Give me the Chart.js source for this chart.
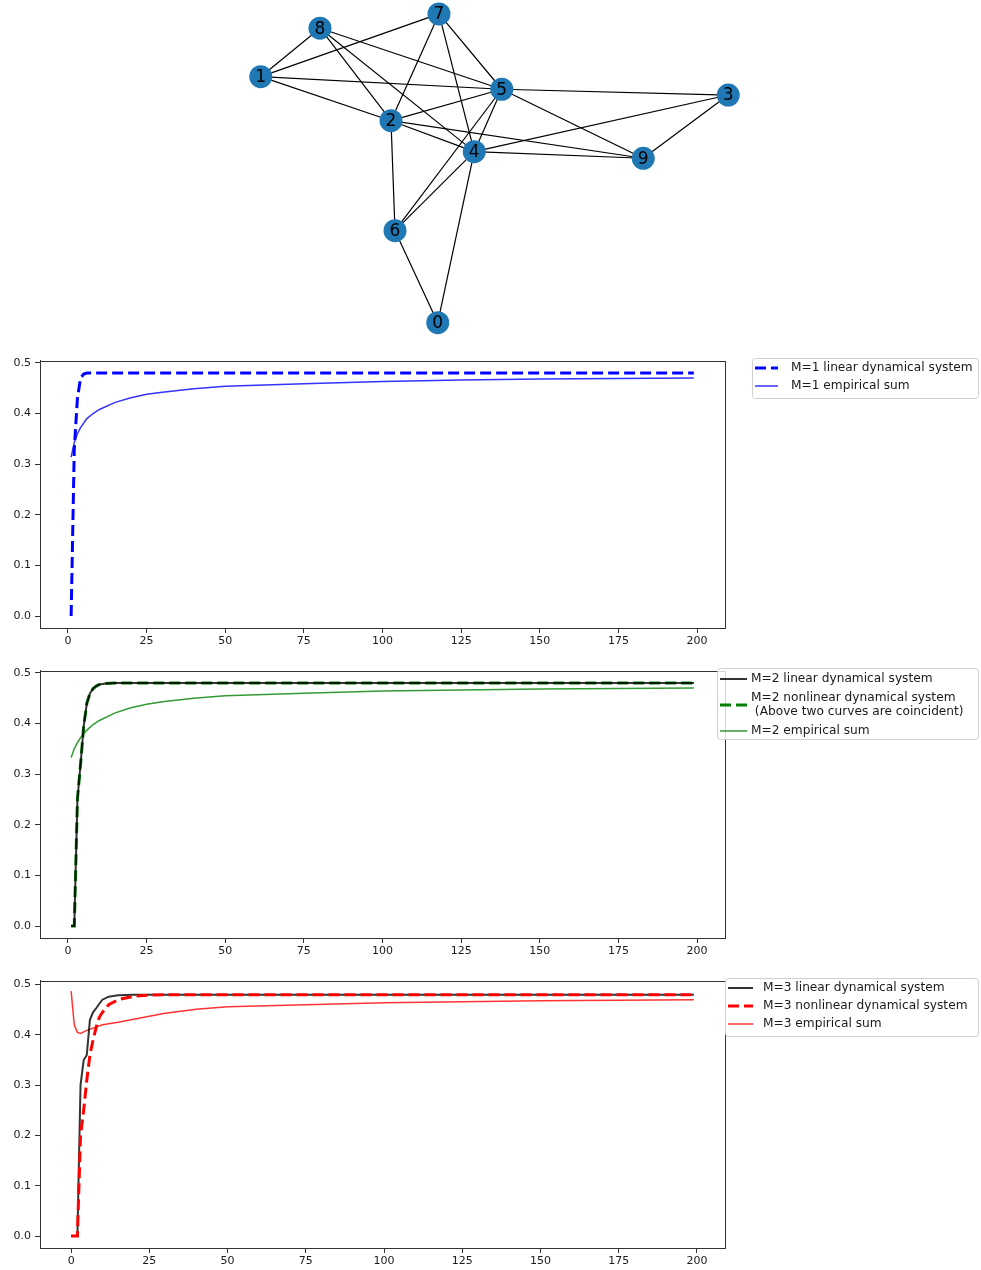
<!DOCTYPE html>
<html>
<head>
<meta charset="utf-8">
<script src="https://cdn.jsdelivr.net/npm/chart.js@4/dist/chart.umd.min.js"></script>
<style>
  body { margin: 0; background: #fff; }
  #page { position: relative; width: 981px; height: 1270px; }
  canvas { position: absolute; }
</style>
</head>
<body>
<div id="page">
  <canvas id="graph" width="500" height="340" style="left:245px;top:0px"></canvas>
  <canvas id="m1" width="981" height="300" style="left:0;top:350px"></canvas>
  <canvas id="m2" width="981" height="300" style="left:0;top:660px"></canvas>
  <canvas id="m3" width="981" height="300" style="left:0;top:970px"></canvas>
</div>
<script>
// network layout (node positions in layout units)
const nodeIds = [0, 1, 2, 3, 4, 5, 6, 7, 8, 9];
const nodeX = [-0.229, -0.937, -0.416, 0.933, -0.083, 0.027, -0.400, -0.224, -0.700, 0.593];
const nodeY = [-0.898, 0.549, 0.290, 0.441, 0.108, 0.475, -0.357, 0.918, 0.834, 0.069];
const edges = [
    [8, 1], [1, 7], [1, 5], [1, 2], [8, 5], [8, 2], [8, 4], [7, 2],
    [7, 4], [7, 5], [5, 2], [5, 3], [5, 9], [5, 4], [5, 6], [2, 4],
    [2, 9], [2, 6], [4, 9], [4, 3], [4, 6], [4, 0], [6, 0], [3, 9],
];

// axis ticks
const xTicks = [0, 25, 50, 75, 100, 125, 150, 175, 200];
const yTicks = [0, 0.1, 0.2, 0.3, 0.4, 0.5];

// M=1
const m1LinT = [1, 2, 3, 4, 5, 6, 10, 50, 100, 150, 199];
const m1LinV = [0, 0.33, 0.43, 0.47, 0.478, 0.48, 0.48, 0.48, 0.48, 0.48, 0.48];
const m1EmpT = [1, 2, 3, 4, 6, 8, 10, 15, 20, 25, 30, 40, 50, 60, 75, 100, 125, 150, 175, 199];
const m1EmpV = [0.314, 0.343, 0.36, 0.372, 0.39, 0.4, 0.408, 0.422, 0.431, 0.438, 0.442, 0.449, 0.454, 0.456, 0.459, 0.463, 0.466, 0.468, 0.469, 0.47];

// M=2
const m2LinT = [1, 2, 3, 4, 5, 6, 7, 8, 9, 10, 12, 15, 20, 199];
const m2LinV = [0, 0, 0.25, 0.32, 0.395, 0.44, 0.46, 0.469, 0.474, 0.477, 0.479, 0.48, 0.48, 0.48];
const m2NonV = [0, 0, 0.25, 0.32, 0.395, 0.44, 0.46, 0.469, 0.474, 0.477, 0.479, 0.48, 0.48, 0.48];
const m2EmpT = [1, 2, 3, 4, 6, 8, 10, 15, 20, 25, 30, 40, 50, 75, 100, 125, 150, 175, 199];
const m2EmpV = [0.333, 0.35, 0.362, 0.372, 0.387, 0.398, 0.406, 0.421, 0.431, 0.438, 0.443, 0.45, 0.455, 0.46, 0.464, 0.466, 0.468, 0.469, 0.47];

// M=3
const m3LinT = [0, 1, 2, 3, 4, 5, 6, 7, 8, 9, 10, 12, 15, 20, 199];
const m3LinV = [0, 0, 0, 0.3, 0.35, 0.36, 0.43, 0.445, 0.453, 0.462, 0.47, 0.476, 0.479, 0.48, 0.48];
const m3NonT = [0, 1, 2, 3, 4, 5, 6, 7, 8, 9, 10, 12, 15, 20, 25, 30, 199];
const m3NonV = [0, 0, 0, 0.2, 0.25, 0.31, 0.36, 0.39, 0.415, 0.435, 0.445, 0.46, 0.47, 0.477, 0.479, 0.48, 0.48];
const m3EmpT = [0, 1, 2, 3, 5, 10, 15, 20, 25, 30, 40, 50, 75, 100, 125, 150, 175, 199];
const m3EmpV = [0.487, 0.42, 0.405, 0.403, 0.409, 0.42, 0.425, 0.431, 0.437, 0.443, 0.451, 0.456, 0.46, 0.464, 0.466, 0.468, 0.469, 0.47];

const FONT = "'DejaVu Sans', sans-serif";
const pts = (t, v) => t.map((x, i) => ({x: x, y: v[i]}));

// ---------- network graph ----------
const nodeLabels = {
    id: "nodeLabels",
    afterDatasetsDraw(chart) {
        const ctx = chart.ctx;
        const xs = chart.scales.x, ys = chart.scales.y;
        ctx.save();
        ctx.font = "17px " + FONT;
        ctx.fillStyle = "#000";
        ctx.textAlign = "center";
        ctx.textBaseline = "middle";
        nodeIds.forEach((id, i) => {
            ctx.fillText(String(id), xs.getPixelForValue(nodeX[i]), ys.getPixelForValue(nodeY[i]) + 1);
        });
        ctx.restore();
    },
};

const edgeSets = edges.map(([a, b]) => ({
    data: [{x: nodeX[a], y: nodeY[a]}, {x: nodeX[b], y: nodeY[b]}],
    showLine: true,
    borderColor: "#000",
    borderWidth: 1.2,
    pointRadius: 0,
    clip: false,
    order: 2,
}));

new Chart(document.getElementById("graph"), {
    type: "scatter",
    data: {
        datasets: [
            ...edgeSets,
            {
                data: nodeIds.map((id, i) => ({x: nodeX[i], y: nodeY[i]})),
                pointRadius: 11.5,
                pointBackgroundColor: "#1f77b4",
                pointBorderWidth: 0,
                clip: false,
                order: 1,
            },
        ],
    },
    options: {
        responsive: false,
        animation: false,
        layout: {padding: 0, autoPadding: false},
        plugins: {legend: {display: false}, tooltip: {enabled: false}},
        scales: {
            x: {type: "linear", min: -1, max: 1, display: false},
            y: {type: "linear", min: -1, max: 1, display: false},
        },
    },
    plugins: [nodeLabels],
});

// ---------- line charts ----------
const frame = {
    id: "frame",
    afterDraw(chart) {
        const {left, top, right, bottom} = chart.chartArea;
        const ctx = chart.ctx;
        ctx.save();
        ctx.strokeStyle = "#333";
        ctx.lineWidth = 1;
        ctx.strokeRect(Math.round(left) + 0.5, Math.round(top) + 0.5, Math.round(right - left), Math.round(bottom - top));
        ctx.restore();
    },
};

const sideLegend = {
    id: "sideLegend",
    afterDraw(chart, args, o) {
        const ctx = chart.ctx;
        ctx.save();
        const r = 3;
        const x0 = o.box[0] + 0.5, y0 = o.box[1] + 0.5, x1 = o.box[2] - 0.5, y1 = o.box[3] - 0.5;
        ctx.beginPath();
        ctx.moveTo(x0 + r, y0);
        ctx.arcTo(x1, y0, x1, y1, r);
        ctx.arcTo(x1, y1, x0, y1, r);
        ctx.arcTo(x0, y1, x0, y0, r);
        ctx.arcTo(x0, y0, x1, y0, r);
        ctx.closePath();
        ctx.fillStyle = "rgba(255,255,255,0.8)";
        ctx.fill();
        ctx.strokeStyle = "#d0d0d0";
        ctx.lineWidth = 1;
        ctx.stroke();

        ctx.font = o.fontSize + "px " + FONT;
        ctx.textBaseline = "middle";
        ctx.textAlign = "left";
        chart.data.datasets.forEach((ds, i) => {
            const lines = Array.isArray(ds.label) ? ds.label : [ds.label];
            const y = o.rows[i];
            const sy = y + (lines.length - 1) * o.lineGap / 2;
            ctx.strokeStyle = ds.borderColor;
            ctx.lineWidth = ds.borderWidth;
            ctx.setLineDash(ds.borderDash || []);
            ctx.beginPath();
            ctx.moveTo(o.handle[0], sy);
            ctx.lineTo(o.handle[1], sy);
            ctx.stroke();
            ctx.setLineDash([]);
            ctx.fillStyle = "#1a1a1a";
            lines.forEach((t, j) => ctx.fillText(t, o.textX, y + j * o.lineGap));
        });
        ctx.restore();
    },
};

function lineChart(id, datasets, xMin, xMax, yMin, yMax, legendOpts) {
    const axisCommon = {
        type: "linear",
        grid: {drawOnChartArea: false, drawTicks: true, tickLength: 5, color: "#333", tickColor: "#333"},
        border: {display: true, color: "#333", width: 1},
    };
    return new Chart(document.getElementById(id), {
        type: "line",
        data: {datasets: datasets},
        options: {
            responsive: false,
            animation: false,
            layout: {padding: {left: 0, right: 256, top: 10, bottom: 0}, autoPadding: false},
            elements: {point: {radius: 0}, line: {tension: 0, borderCapStyle: "butt"}},
            plugins: {
                legend: {display: false},
                tooltip: {enabled: false},
                sideLegend: legendOpts,
            },
            scales: {
                x: {
                    ...axisCommon,
                    min: xMin,
                    max: xMax,
                    afterBuildTicks: (s) => { s.ticks = xTicks.map((v) => ({value: v})); },
                    afterFit: (s) => { s.height = 22; },
                    ticks: {font: {family: FONT, size: 11}, color: "#1a1a1a", padding: 2, maxRotation: 0, callback: (v) => String(v)},
                },
                y: {
                    ...axisCommon,
                    min: yMin,
                    max: yMax,
                    afterBuildTicks: (s) => { s.ticks = yTicks.map((v) => ({value: v})); },
                    afterFit: (s) => { s.width = 40; },
                    ticks: {font: {family: FONT, size: 11}, color: "#1a1a1a", padding: 4, callback: (v) => v.toFixed(1)},
                },
            },
        },
        plugins: [frame, sideLegend],
    });
}

lineChart("m1", [
    {label: "M=1 linear dynamical system", data: pts(m1LinT, m1LinV), borderColor: "#0000ff", borderWidth: 3, borderDash: [11, 5], order: 1},
    {label: "M=1 empirical sum", data: pts(m1EmpT, m1EmpV), borderColor: "rgba(0,0,255,0.8)", borderWidth: 1.5, order: 2},
], -8.9, 208.9, -0.0237, 0.5045, {
    box: [752, 8, 979, 49], rows: [18, 36], lineGap: 14, handle: [755, 778], textX: 791, fontSize: 12.2,
});

lineChart("m2", [
    {label: "M=2 linear dynamical system", data: pts(m2LinT, m2LinV), borderColor: "rgba(0,0,0,0.8)", borderWidth: 2, order: 1},
    {label: ["M=2 nonlinear dynamical system", " (Above two curves are coincident)"], data: pts(m2LinT, m2NonV), borderColor: "#008000", borderWidth: 3, borderDash: [11, 5], order: 2},
    {label: "M=2 empirical sum", data: pts(m2EmpT, m2EmpV), borderColor: "rgba(0,128,0,0.8)", borderWidth: 1.5, order: 3},
], -8.9, 208.9, -0.0237, 0.5045, {
    box: [717, 8, 979, 80], rows: [19, 38, 71], lineGap: 14, handle: [720, 747], textX: 751, fontSize: 12.2,
});

lineChart("m3", [
    {label: "M=3 linear dynamical system", data: pts(m3LinT, m3LinV), borderColor: "rgba(0,0,0,0.8)", borderWidth: 2, order: 2},
    {label: "M=3 nonlinear dynamical system", data: pts(m3NonT, m3NonV), borderColor: "#ff0000", borderWidth: 3, borderDash: [11, 5], order: 1},
    {label: "M=3 empirical sum", data: pts(m3EmpT, m3EmpV), borderColor: "rgba(255,0,0,0.8)", borderWidth: 1.5, order: 3},
], -9.95, 208.95, -0.0238, 0.508, {
    box: [725, 8, 979, 67], rows: [18, 36, 54], lineGap: 14, handle: [728, 753], textX: 763, fontSize: 12.2,
});
</script>
</body>
</html>
